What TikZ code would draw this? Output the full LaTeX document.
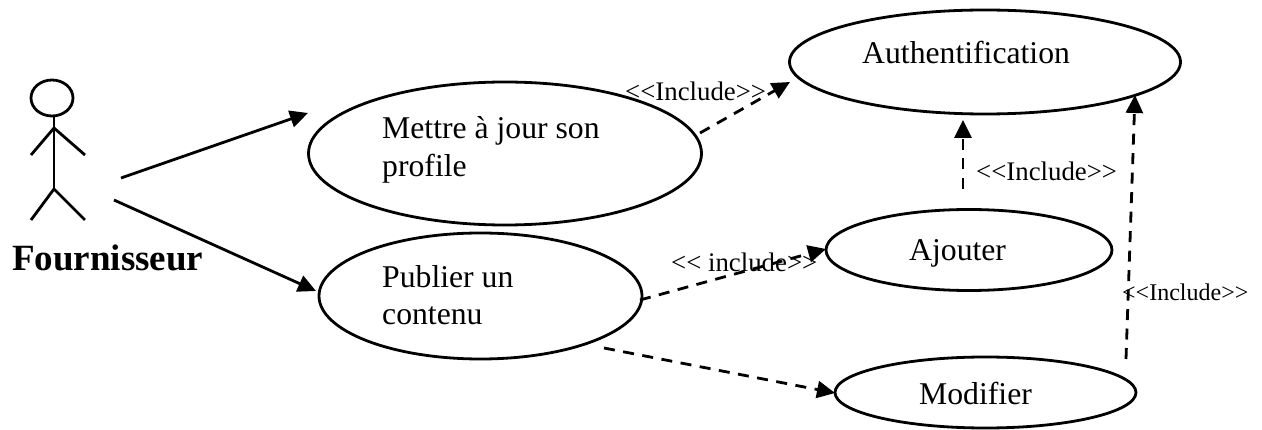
\documentclass[tikz,border=0pt]{standalone}
\usepackage{fontspec}
\setmainfont{Liberation Serif}
\usetikzlibrary{arrows.meta,shapes.geometric}
\tikzset{
 uc/.style={draw,line width=2.8pt,ellipse,inner sep=0pt},
 stick/.style={line width=2.8pt},
 solidarrow/.style={line width=2.8pt,-{Triangle[length=18pt,width=17pt]}},
 dasharrow/.style={line width=2.8pt,dash pattern=on 11pt off 8.5pt,-{Triangle[length=18pt,width=17pt]}},
 txt/.style={inner sep=0pt,anchor=base west,font=\fontsize{31.7}{32}\selectfont},
 lab/.style={inner sep=0pt,anchor=base west,font=\fontsize{26.8}{27}\selectfont},
}
\begin{document}
\begin{tikzpicture}[x=1pt,y=-1pt]
\useasboundingbox (0,0) rectangle (1262,430);
% use cases
\node[uc,minimum width=391pt,minimum height=104pt] (auth) at (985,62) {};
\node[uc,minimum width=393pt,minimum height=143pt] (maj) at (505,153.5) {};
\node[uc,minimum width=323pt,minimum height=126pt] (pub) at (480.5,296) {};
\node[uc,minimum width=286pt,minimum height=81pt] (ajo) at (969,250) {};
\node[uc,minimum width=301pt,minimum height=71pt] (mod) at (985.5,392.5) {};
% use-case texts
\node[txt] (tauth) at (862,64) {Authentification};
\node[txt] (tmaj1) at (382,139) {Mettre à jour son};
\node[txt] (tmaj2) at (382,177) {profile};
\node[txt] (tpub1) at (382,288) {Publier un};
\node[txt] (tpub2) at (382,325) {contenu};
\node[txt] (tajo) at (909,261) {Ajouter};
\node[txt] (tmod) at (919,405) {Modifier};
% actor
\node[draw,line width=2.8pt,ellipse,minimum width=42pt,minimum height=36pt,inner sep=0pt] (head) at (52,98) {};
\coordinate (hip) at (54,189);
\coordinate (shoulder) at (54,128);
\coordinate (neck) at (54,116);
\draw[stick] (neck) -- (hip);
\coordinate (handl) at (31,155);
\coordinate (handr) at (85,155);
\coordinate (footl) at (31,220);
\coordinate (footr) at (85,220);
\draw[stick] (handl) -- (shoulder) -- (handr);
\draw[stick] (footl) -- (hip) -- (footr);
\node[inner sep=0pt,anchor=base west,font=\bfseries\fontsize{37}{38}\selectfont] (actor) at (12,271) {Fournisseur};
% connector ends
\coordinate (a1s) at (121,178); \coordinate (a1e) at (308,113);
\coordinate (a2s) at (114,200); \coordinate (a2e) at (316,291);
\coordinate (d1s) at (700,133); \coordinate (d1e) at (790,82);
\coordinate (d2s) at (640,300); \coordinate (d2e) at (826,249);
\coordinate (d3s) at (604,348); \coordinate (d3e) at (835,393);
\coordinate (d4s) at (963,189); \coordinate (d4e) at (963,120);
\coordinate (d5s) at (1126,359); \coordinate (d5e) at (1135,95);
\draw[solidarrow] (a1s) -- (a1e);
\draw[solidarrow] (a2s) -- (a2e);
\draw[dasharrow] (d1s) -- (d1e);
\draw[dasharrow] (d2s) -- (d2e);
\draw[dasharrow] (d3s) -- (d3e);
\draw[dasharrow] (d4s) -- (d4e);
\draw[dasharrow] (d5s) -- (d5e);
% labels
\node[lab] (l1) at (625,101) {<{}<Include>{}>};
\node[lab] (l2) at (671,272) {<{}< include>{}>};
\node[lab] (l3) at (976,181) {<{}<Include>{}>};
\node[lab,font=\fontsize{24}{25}\selectfont] (l4) at (1122,301) {<{}<Include>{}>};
\end{tikzpicture}
\end{document}
